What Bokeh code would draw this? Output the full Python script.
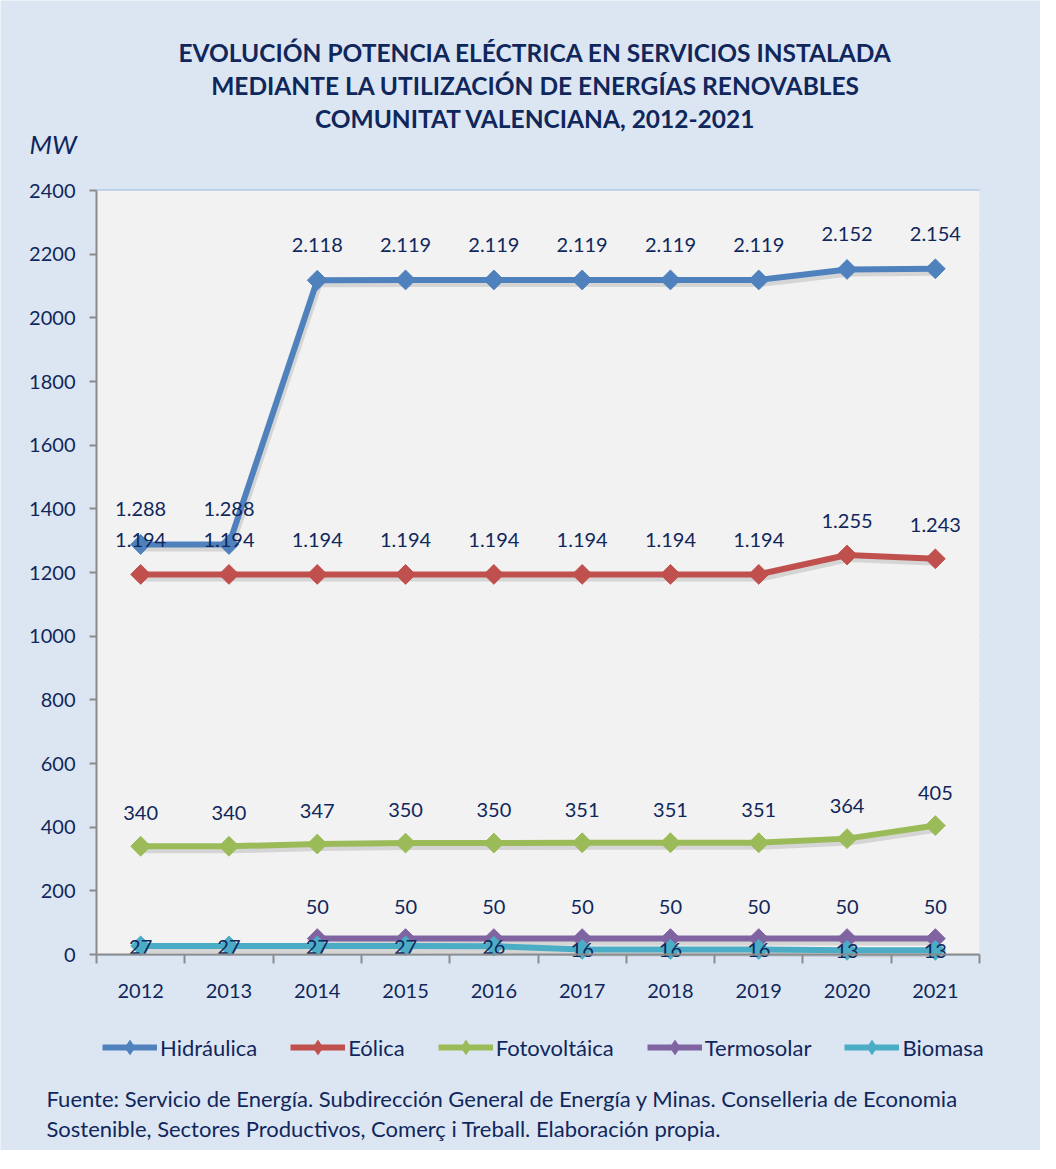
from bokeh.plotting import figure
from bokeh.models import (ColumnDataSource, FixedTicker, Legend, LegendItem,
                          Range1d, Label, BoxAnnotation)
from bokeh.core.properties import value
from bokeh.embed import file_html
from bokeh.resources import INLINE

years = [2012, 2013, 2014, 2015, 2016, 2017, 2018, 2019, 2020, 2021]
hidraulica = [1288, 1288, 2118, 2119, 2119, 2119, 2119, 2119, 2152, 2154]
eolica = [1194, 1194, 1194, 1194, 1194, 1194, 1194, 1194, 1255, 1243]
fotovoltaica = [340, 340, 347, 350, 350, 351, 351, 351, 364, 405]
termosolar = [None, None, 50, 50, 50, 50, 50, 50, 50, 50]
biomasa = [27, 27, 27, 27, 26, 16, 16, 16, 13, 13]
y_ticks = [0, 200, 400, 600, 800, 1000, 1200, 1400, 1600, 1800, 2000, 2200, 2400]

title_lines = ["EVOLUCIÓN POTENCIA ELÉCTRICA EN SERVICIOS INSTALADA",
               "MEDIANTE LA UTILIZACIÓN DE ENERGÍAS RENOVABLES",
               "COMUNITAT VALENCIANA, 2012-2021"]
source_lines = ["Fuente: Servicio de Energía. Subdirección General de Energía y Minas. Conselleria de Economia",
                "Sostenible, Sectores Productivos, Comerç i Treball. Elaboración propia."]

FONT = "Lato"
NAVY = "#10275c"
BG = "#dce6f2"
AXIS = "#8c8c8c"

W, H = 1040, 1150
FL, FR, FT, FB = 96, 979, 190, 954  # plot-area edges in picture px
X0, X1, Y0, Y1 = 2011.5, 2021.5, 0, 2400
PX_X = (FR - FL) / (X1 - X0)
PX_Y = (FB - FT) / (Y1 - Y0)


def dx(px):
    return X0 + (px - FL) / PX_X


def dy(py):
    return Y0 + (FB - py) / PX_Y


p = figure(width=W, height=H, output_backend="svg", toolbar_location=None,
           x_range=Range1d(dx(0), dx(W)), y_range=Range1d(dy(H), dy(0)),
           min_border_left=0, min_border_right=0, min_border_top=0, min_border_bottom=0)
p.border_fill_color = BG
p.background_fill_color = BG
p.outline_line_color = None
p.xgrid.grid_line_color = None
p.ygrid.grid_line_color = None

# plot area
p.add_layout(BoxAnnotation(left=X0, right=X1, bottom=Y0, top=Y1, fill_color="#f2f2f2",
                           fill_alpha=1, line_color=None, level="underlay"))
p.segment(x0=[X0] * len(y_ticks), x1=[X1] * len(y_ticks), y0=y_ticks, y1=y_ticks,
          line_color="#95b9e2", line_width=2, level="underlay")

# axes
p.xaxis.fixed_location = Y0
p.xaxis.bounds = (X0, X1)
p.xaxis.ticker = FixedTicker(ticks=years, minor_ticks=[y + 0.5 for y in [2011] + years])
p.xaxis.major_tick_line_color = None
p.xaxis.minor_tick_line_color = AXIS
p.xaxis.minor_tick_line_width = 2
p.xaxis.minor_tick_out = 9
p.xaxis.minor_tick_in = 0
p.xaxis.major_label_standoff = 20
p.yaxis.fixed_location = X0
p.yaxis.bounds = (Y0, Y1)
p.yaxis.ticker = FixedTicker(ticks=y_ticks)
p.yaxis.minor_tick_line_color = None
p.yaxis.major_tick_line_color = AXIS
p.yaxis.major_tick_line_width = 2
p.yaxis.major_tick_out = 7
p.yaxis.major_tick_in = 0
p.yaxis.major_label_standoff = 14
for ax in (p.xaxis, p.yaxis):
    ax.axis_line_color = AXIS
    ax.axis_line_width = 2
    ax.major_label_text_font = FONT
    ax.major_label_text_font_size = "20px"
    ax.major_label_text_color = NAVY

series = [
    ("Hidráulica", hidraulica, "#4f81bd", -35),
    ("Eólica", eolica, "#c0504d", -34),
    ("Fotovoltáica", fotovoltaica, "#9bbb59", -33),
    ("Termosolar", termosolar, "#8064a2", -32),
    ("Biomasa", biomasa, "#4bacc6", 1),
]

SH_X, SH_Y = 2 / PX_X, -4 / PX_Y  # soft drop shadow offset (2px right, 4px down)

items = []
sources = []
for name, vals, color, off in series:
    xs = [x for x, v in zip(years, vals) if v is not None]
    vs = [v for v in vals if v is not None]
    src = ColumnDataSource(dict(x=xs, y=vs,
                                xs=[x + SH_X for x in xs], ys=[v + SH_Y for v in vs],
                                lab=[f"{v:,}".replace(",", ".") for v in vs]))
    sources.append((src, off))
    p.line("xs", "ys", source=src, line_color="#7f7f7f", line_alpha=0.25, line_width=6,
           line_join="round")
    lr = p.line("x", "y", source=src, line_color=color, line_width=6, line_join="round")
    p.scatter("x", "y", source=src, marker="square", angle=0.785398, size=14,
              fill_color=color, line_color=color)
    # legend-only marker: a single not-a-number point, so nothing shows in the plot
    lg = p.scatter(x=[float("nan")], y=[float("nan")], marker="diamond", size=15,
                   fill_color=color, line_color=color)
    items.append(LegendItem(label=name, renderers=[lr, lg]))

for src, off in sources:
    p.text("x", "y", text="lab", source=src, y_offset=off, text_align="center",
           text_baseline="middle", text_font=value(FONT), text_font_size="20px",
           text_color=NAVY)

legend = Legend(items=items, orientation="horizontal", location=(102, H - 1065),
                glyph_width=55, glyph_height=36, label_standoff=3, spacing=33,
                padding=0, margin=0, background_fill_alpha=0, border_line_color=None,
                label_text_font=FONT, label_text_font_size="22px", label_text_color=NAVY,
                label_height=22)
p.add_layout(legend, "center")

for i, t in enumerate(title_lines):
    p.add_layout(Label(x=dx(535), y=dy(52 + 33 * i), text=t, text_align="center",
                       text_baseline="middle", text_font=FONT, text_font_style="bold",
                       text_font_size="24.5px", text_color=NAVY))
p.add_layout(Label(x=dx(29), y=dy(143), text="MW", text_align="left",
                   text_baseline="middle", text_font=FONT, text_font_style="italic",
                   text_font_size="26px", text_color=NAVY))
for i, t in enumerate(source_lines):
    p.add_layout(Label(x=dx(46), y=dy(1098 + 30 * i), text=t, text_align="left",
                       text_baseline="middle", text_font=FONT,
                       text_font_size="22px", text_color=NAVY))

open("out.html", "w").write(file_html(p, INLINE))
